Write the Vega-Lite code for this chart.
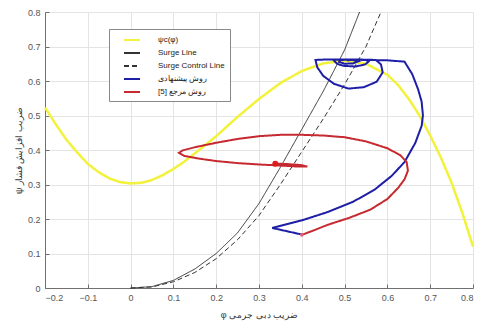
{
  "$schema": "https://vega.github.io/schema/vega-lite/v6.json",
  "width": 428,
  "height": 276,
  "autosize": "none",
  "padding": {"left": 45, "top": 12, "right": 7, "bottom": 37},
  "background": "white",
  "config": {
    "view": {"stroke": null},
    "font": "Liberation Sans",
    "axis": {
      "gridColor": "#e4e4e4", "gridWidth": 1, "domainColor": "#707070", "tickColor": "#707070",
      "labelColor": "#555555", "labelFontSize": 9, "titleColor": "#333333", "titleFontSize": 9, "titleFontWeight": "normal",
      "tickSize": -4, "labelPadding": 9
    }
  },
  "datasets": {
    "psi": [
      {"s":"a","x":-0.2,"y":0.523},{"s":"a","x":-0.175,"y":0.475},{"s":"a","x":-0.15,"y":0.43},{"s":"a","x":-0.125,"y":0.393},
      {"s":"a","x":-0.1,"y":0.36},{"s":"a","x":-0.075,"y":0.336},{"s":"a","x":-0.05,"y":0.318},{"s":"a","x":-0.025,"y":0.307},
      {"s":"a","x":0,"y":0.303},{"s":"a","x":0.025,"y":0.305},{"s":"a","x":0.05,"y":0.313},{"s":"a","x":0.075,"y":0.327},
      {"s":"a","x":0.1,"y":0.345},{"s":"a","x":0.125,"y":0.366},{"s":"a","x":0.15,"y":0.39},{"s":"a","x":0.175,"y":0.415},
      {"s":"a","x":0.2,"y":0.44},{"s":"a","x":0.25,"y":0.496},{"s":"a","x":0.3,"y":0.548},{"s":"a","x":0.35,"y":0.594},
      {"s":"a","x":0.4,"y":0.629},{"s":"a","x":0.45,"y":0.651},{"s":"a","x":0.5,"y":0.659},{"s":"a","x":0.55,"y":0.65},
      {"s":"a","x":0.6,"y":0.618},{"s":"a","x":0.625,"y":0.588},{"s":"a","x":0.65,"y":0.548},{"s":"a","x":0.675,"y":0.5},
      {"s":"a","x":0.7,"y":0.442},{"s":"a","x":0.725,"y":0.378},{"s":"a","x":0.75,"y":0.305},{"s":"a","x":0.775,"y":0.218},
      {"s":"a","x":0.8,"y":0.12}
    ],
    "surge": [
      {"s":"b","x":0,"y":0},{"s":"b","x":0.05,"y":0.004},{"s":"b","x":0.1,"y":0.022},{"s":"b","x":0.15,"y":0.055},
      {"s":"b","x":0.2,"y":0.1},{"s":"b","x":0.25,"y":0.16},{"s":"b","x":0.3,"y":0.245},{"s":"b","x":0.35,"y":0.35},
      {"s":"b","x":0.4,"y":0.46},{"s":"b","x":0.45,"y":0.57},{"s":"b","x":0.5,"y":0.69},{"s":"b","x":0.535,"y":0.8}
    ],
    "control": [
      {"s":"c","x":0,"y":0},{"s":"c","x":0.05,"y":0.003},{"s":"c","x":0.1,"y":0.018},{"s":"c","x":0.15,"y":0.045},
      {"s":"c","x":0.2,"y":0.085},{"s":"c","x":0.25,"y":0.14},{"s":"c","x":0.3,"y":0.21},{"s":"c","x":0.35,"y":0.3},
      {"s":"c","x":0.4,"y":0.395},{"s":"c","x":0.45,"y":0.49},{"s":"c","x":0.5,"y":0.59},{"s":"c","x":0.55,"y":0.7},
      {"s":"c","x":0.585,"y":0.8}
    ],
    "prop": [
      {"s":"d","i":1,"x":0.4,"y":0.155},{"s":"d","i":2,"x":0.331,"y":0.174},{"s":"d","i":3,"x":0.4,"y":0.196},
      {"s":"d","i":4,"x":0.46,"y":0.22},{"s":"d","i":5,"x":0.52,"y":0.25},{"s":"d","i":6,"x":0.57,"y":0.285},
      {"s":"d","i":7,"x":0.61,"y":0.325},{"s":"d","i":8,"x":0.64,"y":0.365},{"s":"d","i":9,"x":0.665,"y":0.42},
      {"s":"d","i":10,"x":0.68,"y":0.47},{"s":"d","i":11,"x":0.683,"y":0.5},{"s":"d","i":12,"x":0.68,"y":0.54},
      {"s":"d","i":13,"x":0.672,"y":0.575},{"s":"d","i":14,"x":0.658,"y":0.62},{"s":"d","i":15,"x":0.64,"y":0.656},
      {"s":"d","i":16,"x":0.6,"y":0.66},{"s":"d","i":17,"x":0.55,"y":0.661},{"s":"d","i":18,"x":0.5,"y":0.662},
      {"s":"d","i":19,"x":0.45,"y":0.662},{"s":"d","i":20,"x":0.432,"y":0.661},{"s":"d","i":21,"x":0.436,"y":0.64},
      {"s":"d","i":22,"x":0.45,"y":0.615},{"s":"d","i":23,"x":0.475,"y":0.592},{"s":"d","i":24,"x":0.509,"y":0.578},
      {"s":"d","i":25,"x":0.545,"y":0.582},{"s":"d","i":26,"x":0.575,"y":0.598},{"s":"d","i":27,"x":0.589,"y":0.625},
      {"s":"d","i":28,"x":0.585,"y":0.648},{"s":"d","i":29,"x":0.573,"y":0.661},{"s":"d","i":30,"x":0.54,"y":0.662},
      {"s":"d","i":31,"x":0.5,"y":0.662},{"s":"d","i":32,"x":0.474,"y":0.661},{"s":"d","i":33,"x":0.482,"y":0.65},
      {"s":"d","i":34,"x":0.497,"y":0.644},{"s":"d","i":35,"x":0.526,"y":0.642},{"s":"d","i":36,"x":0.548,"y":0.648},
      {"s":"d","i":37,"x":0.556,"y":0.656},{"s":"d","i":38,"x":0.55,"y":0.661},{"s":"d","i":39,"x":0.52,"y":0.662},
      {"s":"d","i":40,"x":0.49,"y":0.661},{"s":"d","i":41,"x":0.488,"y":0.655},{"s":"d","i":42,"x":0.5,"y":0.65},
      {"s":"d","i":43,"x":0.52,"y":0.651},{"s":"d","i":44,"x":0.532,"y":0.657},{"s":"d","i":45,"x":0.52,"y":0.661},
      {"s":"d","i":46,"x":0.505,"y":0.66}
    ],
    "ref": [
      {"s":"e","i":1,"x":0.4,"y":0.154},{"s":"e","i":2,"x":0.43,"y":0.168},{"s":"e","i":3,"x":0.46,"y":0.183},
      {"s":"e","i":4,"x":0.51,"y":0.203},{"s":"e","i":5,"x":0.56,"y":0.227},{"s":"e","i":6,"x":0.6,"y":0.258},
      {"s":"e","i":7,"x":0.625,"y":0.29},{"s":"e","i":8,"x":0.64,"y":0.315},{"s":"e","i":9,"x":0.648,"y":0.34},
      {"s":"e","i":10,"x":0.645,"y":0.365},{"s":"e","i":11,"x":0.63,"y":0.385},{"s":"e","i":12,"x":0.6,"y":0.405},
      {"s":"e","i":13,"x":0.55,"y":0.425},{"s":"e","i":14,"x":0.5,"y":0.437},{"s":"e","i":15,"x":0.45,"y":0.442},
      {"s":"e","i":16,"x":0.4,"y":0.444},{"s":"e","i":17,"x":0.35,"y":0.444},{"s":"e","i":18,"x":0.3,"y":0.44},
      {"s":"e","i":19,"x":0.25,"y":0.432},{"s":"e","i":20,"x":0.2,"y":0.421},{"s":"e","i":21,"x":0.15,"y":0.408},
      {"s":"e","i":22,"x":0.122,"y":0.399},{"s":"e","i":23,"x":0.113,"y":0.392},{"s":"e","i":24,"x":0.125,"y":0.383},
      {"s":"e","i":25,"x":0.16,"y":0.375},{"s":"e","i":26,"x":0.2,"y":0.368},{"s":"e","i":27,"x":0.25,"y":0.362},
      {"s":"e","i":28,"x":0.3,"y":0.358},{"s":"e","i":29,"x":0.35,"y":0.355},{"s":"e","i":30,"x":0.39,"y":0.352},
      {"s":"e","i":31,"x":0.413,"y":0.352},{"s":"e","i":32,"x":0.4,"y":0.356},{"s":"e","i":33,"x":0.37,"y":0.359},
      {"s":"e","i":34,"x":0.345,"y":0.36},{"s":"e","i":35,"x":0.342,"y":0.357},{"s":"e","i":36,"x":0.36,"y":0.354},
      {"s":"e","i":37,"x":0.39,"y":0.355},{"s":"e","i":38,"x":0.38,"y":0.358},{"s":"e","i":39,"x":0.35,"y":0.36},
      {"s":"e","i":40,"x":0.338,"y":0.36}
    ],
    "enddot": [{"s":"e","x":0.338,"y":0.36}],
    "startdot": [{"s":"e","x":0.4,"y":0.154}]
  },
  "encoding": {
    "x": {"field": "x", "type": "quantitative",
      "scale": {"domain": [-0.2, 0.8], "nice": false, "zero": false},
      "axis": {"values": [-0.2,-0.1,0,0.1,0.2,0.3,0.4,0.5,0.6,0.7,0.8], "title": "φ ضریب دبی جرمی", "titlePadding": 8, "format": ".1~f"}},
    "y": {"field": "y", "type": "quantitative",
      "scale": {"domain": [0, 0.8], "nice": false},
      "axis": {"values": [0,0.1,0.2,0.3,0.4,0.5,0.6,0.7,0.8], "title": "ψ ضریب افزایش فشار", "titlePadding": 4, "format": ".1~f"}}
  },
  "layer": [
    {
      "data": {"name": "psi"},
      "mark": {"type": "line", "strokeWidth": 2.5},
      "encoding": {
        "color": {"field": "s", "type": "nominal",
          "scale": {"domain": ["a","b","c","d","e"], "range": ["#f2f23c","#333333","#333333","#1e1ea6","#c62a30"]},
          "legend": {"orient": "none", "legendX": 64, "legendY": 17, "title": null,
            "labelExpr": "datum.value == 'a' ? 'ψc(φ)' : datum.value == 'b' ? 'Surge Line' : datum.value == 'c' ? 'Surge Control Line' : datum.value == 'd' ? 'روش پیشنهادی' : '[5] روش مرجع'",
            "symbolType": "M-1.6,0H1.6", "symbolSize": 100, "symbolOffset": 12, "symbolStrokeWidth": 2, "labelFontSize": 8, "labelColor": "#222222",
            "fillColor": "white", "strokeColor": "#888888", "padding": 5, "rowPadding": 3, "labelOffset": 20}},
        "strokeDash": {"field": "s", "type": "nominal",
          "scale": {"domain": ["a","b","c","d","e"], "range": [[1,0],[1,0],[5,3],[1,0],[1,0]]},
          "legend": {"orient": "none", "legendX": 64, "legendY": 17, "title": null,
            "labelExpr": "datum.value == 'a' ? 'ψc(φ)' : datum.value == 'b' ? 'Surge Line' : datum.value == 'c' ? 'Surge Control Line' : datum.value == 'd' ? 'روش پیشنهادی' : '[5] روش مرجع'",
            "symbolType": "M-1.6,0H1.6", "symbolSize": 100, "symbolOffset": 12, "symbolStrokeWidth": 2, "labelFontSize": 8, "labelColor": "#222222",
            "fillColor": "white", "strokeColor": "#888888", "padding": 5, "rowPadding": 3, "labelOffset": 20}}
      }
    },
    {
      "data": {"name": "surge"},
      "mark": {"type": "line", "strokeWidth": 1},
      "encoding": {"color": {"field": "s", "type": "nominal"}, "strokeDash": {"field": "s", "type": "nominal"}}
    },
    {
      "data": {"name": "control"},
      "mark": {"type": "line", "strokeWidth": 1},
      "encoding": {"color": {"field": "s", "type": "nominal"}, "strokeDash": {"field": "s", "type": "nominal"}}
    },
    {
      "data": {"name": "prop"},
      "mark": {"type": "line", "strokeWidth": 2},
      "encoding": {"color": {"field": "s", "type": "nominal"}, "strokeDash": {"field": "s", "type": "nominal"}, "order": {"field": "i", "type": "quantitative"}}
    },
    {
      "data": {"name": "ref"},
      "mark": {"type": "line", "strokeWidth": 2},
      "encoding": {"color": {"field": "s", "type": "nominal"}, "strokeDash": {"field": "s", "type": "nominal"}, "order": {"field": "i", "type": "quantitative"}}
    },
    {
      "data": {"name": "enddot"},
      "mark": {"type": "point", "filled": true, "size": 35, "color": "#dd1c1c", "opacity": 1},
      "encoding": {}
    },
    {
      "data": {"name": "startdot"},
      "mark": {"type": "point", "filled": true, "size": 14, "color": "#e0607a", "opacity": 1},
      "encoding": {}
    }
  ]
}
